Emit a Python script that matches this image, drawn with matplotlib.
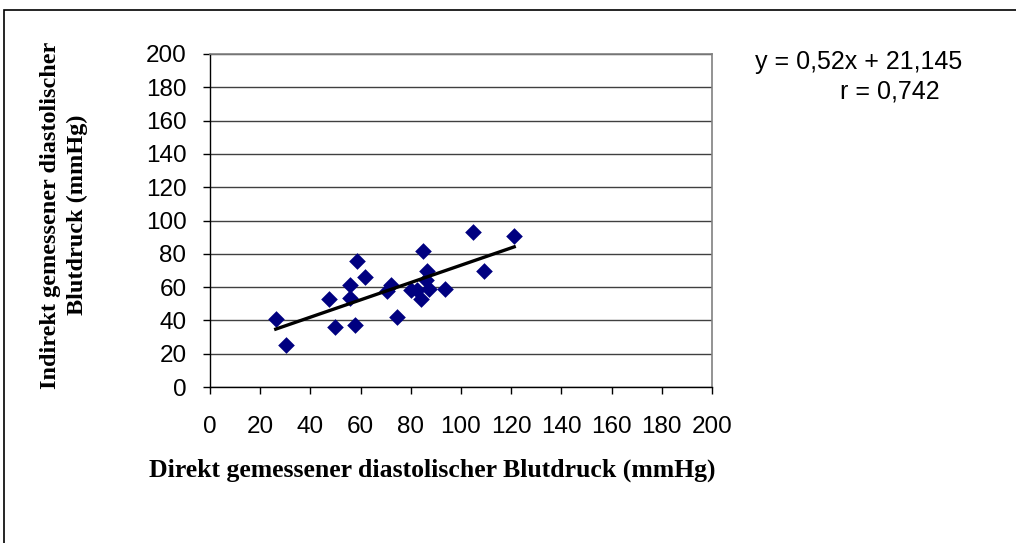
import numpy as np
import matplotlib.pyplot as plt
from matplotlib.patches import Rectangle

direkt = [26.2, 30.2, 47.5, 49.8, 55.6, 55.6, 57.7, 58.5, 61.7, 70.7, 72.2, 74.7,
          79.9, 82.6, 84.1, 85.0, 86.4, 86.1, 87.4, 93.6, 104.6, 109.3, 121.2]
indirekt = [40.8, 25.1, 52.8, 36.1, 61.2, 53.2, 37.1, 75.9, 66.3, 57.8, 61.0, 42.2,
            58.0, 58.2, 52.6, 81.9, 69.9, 64.3, 58.8, 58.8, 92.8, 69.9, 90.4]
slope = 0.52
intercept = 21.145
ticks = list(range(0, 201, 20))

fig = plt.figure(figsize=(10.16, 5.43), dpi=100)
W, H = 1016, 543
ax = fig.add_axes([210 / W, 1 - 387 / H, (712 - 210) / W, (387 - 54) / H])

ax.scatter(direkt, indirekt, marker='D', s=72, color='#000080', zorder=3, linewidths=0)
xs = np.array([min(direkt), max(direkt)])
ax.plot(xs, slope * xs + intercept, color='black', lw=2.4, zorder=4)

ax.set_xlim(0, 200)
ax.set_ylim(0, 200)
ax.set_xticks(ticks)
ax.set_yticks(ticks)
ax.set_xticklabels([str(t) for t in ticks], fontsize=17.5, family='Liberation Sans')
ax.set_yticklabels([str(t) for t in ticks], fontsize=17.5, family='Liberation Sans')
ax.tick_params(direction='out', length=5, width=1, color='black')
ax.tick_params(axis='y', pad=12)
ax.tick_params(axis='x', pad=16)
ax.yaxis.grid(True, color='#404040', lw=1)
ax.set_axisbelow(True)
for s in ['left', 'bottom']:
    ax.spines[s].set_color('black')
    ax.spines[s].set_linewidth(1)
for s in ['top', 'right']:
    ax.spines[s].set_color('#808080')
    ax.spines[s].set_linewidth(1.2)

fig.text(432 / W, 1 - 470 / H, 'Direkt gemessener diastolischer Blutdruck (mmHg)',
         ha='center', va='center', family='Liberation Serif', fontweight='bold', fontsize=18.5)
fig.text(64 / W, 1 - 215 / H, 'Indirekt gemessener diastolischer\nBlutdruck (mmHg)',
         ha='center', va='center', rotation=90, linespacing=1.3,
         family='Liberation Serif', fontweight='bold', fontsize=17.5)

fig.text(755 / W, 1 - 62 / H, 'y = 0,52x + 21,145', ha='left', va='center',
         fontsize=18, family='Liberation Sans')
fig.text(940 / W, 1 - 92 / H, 'r = 0,742', ha='right', va='center',
         fontsize=18, family='Liberation Sans')

fig.patches.append(Rectangle((4 / W, -0.1), 1.1, 1 - 10 / H + 0.1, transform=fig.transFigure,
                             fill=False, edgecolor='black', lw=1.2))

fig.savefig('out.png', dpi=100)
